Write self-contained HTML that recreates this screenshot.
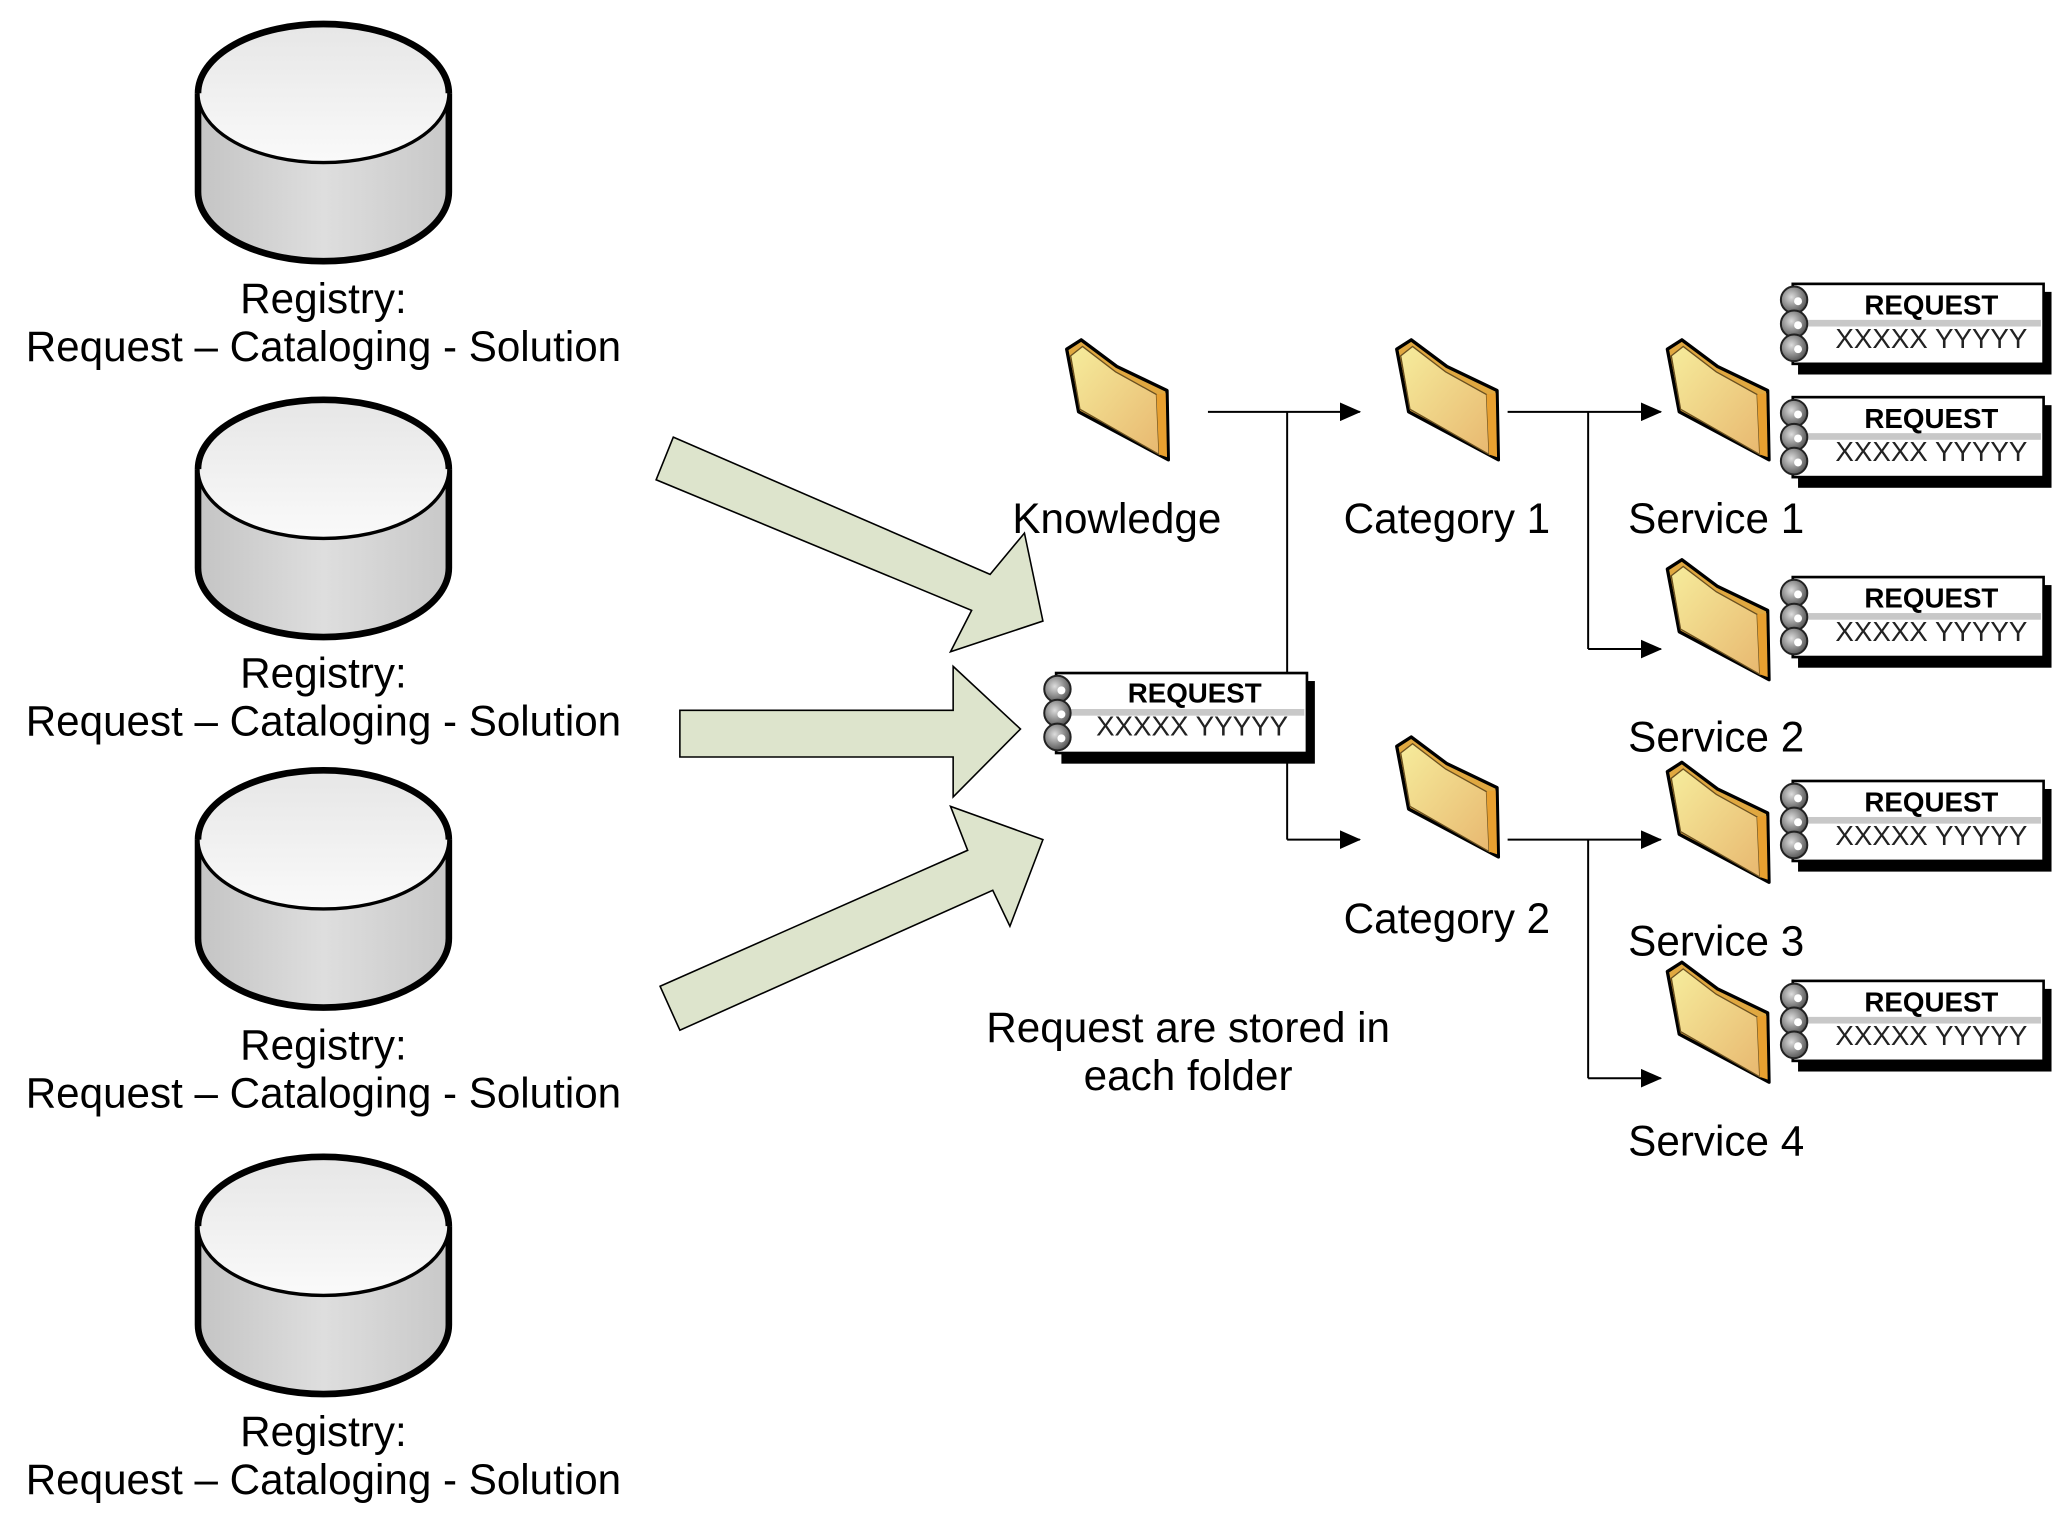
<!DOCTYPE html>
<html><head><meta charset="utf-8"><style>
html,body{margin:0;padding:0;background:#fff;}
svg{display:block;}
text{font-family:"Liberation Sans",Arial,sans-serif;}
</style></head><body>
<svg width="2070" height="1514" viewBox="0 0 1568 1136" preserveAspectRatio="none" xmlns="http://www.w3.org/2000/svg">
<defs>
<linearGradient id="cylTop" x1="0" y1="0" x2="0" y2="1"><stop offset="0" stop-color="#e6e6e6"/><stop offset="1" stop-color="#fafafa"/></linearGradient>
<linearGradient id="cylBody" x1="0" y1="0" x2="1" y2="0"><stop offset="0" stop-color="#c4c4c4"/><stop offset="0.5" stop-color="#dedede"/><stop offset="1" stop-color="#c8c8c8"/></linearGradient>
<linearGradient id="fold" x1="0" y1="0" x2="1" y2="1"><stop offset="0" stop-color="#f6ec9c"/><stop offset="1" stop-color="#e8b870"/></linearGradient>
<radialGradient id="ring" cx="0.4" cy="0.4" r="0.7"><stop offset="0" stop-color="#ddd"/><stop offset="1" stop-color="#444"/></radialGradient>
<marker id="ah" markerWidth="16" markerHeight="14" refX="15" refY="7" orient="auto" markerUnits="userSpaceOnUse"><path d="M0,0 L16,7 L0,14 Z" fill="#000"/></marker>
<g id="cyl">
 <path d="M150,70 L150,144 A95,52 0 0 0 340,144 L340,70" fill="url(#cylBody)" stroke="#000" stroke-width="5"/>
 <ellipse cx="245" cy="70" rx="95" ry="52" fill="url(#cylTop)" stroke="#000" stroke-width="2.5"/>
 <path d="M150,70 A95,52 0 0 1 340,70" fill="none" stroke="#000" stroke-width="5"/>
</g>
<g id="folder">
 <path d="M0,7 L11,0 L38,20 L76,38 L77,90 L9,54 Z" fill="#e0a840" stroke="#000" stroke-width="2.5" stroke-linejoin="round"/>
 <path d="M3,12 L12,5 L37,24 L68,41 L70,86 L10,52 Z" fill="url(#fold)" stroke="#6a5020" stroke-width="1"/>
 <path d="M68,41 L75,40 L76,88 L70,86 Z" fill="#e8a030"/>
</g>
<g id="card">
 <rect x="14" y="6" width="192" height="62" fill="#000"/>
 <rect x="10" y="0" width="190" height="60" fill="#fff" stroke="#000" stroke-width="2"/>
 <rect x="12" y="27" width="186" height="5" fill="#c8c8c8"/>
 <g fill="url(#ring)" stroke="#222" stroke-width="1.5">
  <circle cx="11" cy="12" r="10"/><circle cx="11" cy="30" r="10"/><circle cx="11" cy="48" r="10"/>
 </g>
 <g fill="#fff"><circle cx="14" cy="13" r="3"/><circle cx="14" cy="31" r="3"/><circle cx="14" cy="49" r="3"/></g>
</g>
</defs>

<use href="#cyl" y="0"/>
<use href="#cyl" y="282"/>
<use href="#cyl" y="560"/>
<use href="#cyl" y="850"/>
<g font-size="32" text-anchor="middle" fill="#000">
<text x="245" y="235">Registry:</text><text x="245" y="271" textLength="451" lengthAdjust="spacingAndGlyphs">Request – Cataloging - Solution</text>
<text x="245" y="516">Registry:</text><text x="245" y="552" textLength="451" lengthAdjust="spacingAndGlyphs">Request – Cataloging - Solution</text>
<text x="245" y="795">Registry:</text><text x="245" y="831" textLength="451" lengthAdjust="spacingAndGlyphs">Request – Cataloging - Solution</text>
<text x="245" y="1085">Registry:</text><text x="245" y="1121" textLength="451" lengthAdjust="spacingAndGlyphs">Request – Cataloging - Solution</text>
</g>

<g fill="#dde4cc" stroke="#000" stroke-width="1.2" stroke-linejoin="miter">
<polygon points="510,328 750,431 776,400 790,466 720,489 736,458 497,360"/>
<polygon points="515,533 722,533 722,500 773,547 722,598 722,568 515,568"/>
<polygon points="500,740 733,638 720,605 790,630 765,695 752,668 515,773"/>
</g>

<g stroke="#000" stroke-width="1.5" fill="none">
<line x1="915" y1="309" x2="1030" y2="309" marker-end="url(#ah)"/>
<line x1="975" y1="309" x2="975" y2="630"/>
<line x1="975" y1="630" x2="1030" y2="630" marker-end="url(#ah)"/>
<line x1="1142" y1="309" x2="1258" y2="309" marker-end="url(#ah)"/>
<line x1="1203" y1="309" x2="1203" y2="487"/>
<line x1="1203" y1="487" x2="1258" y2="487" marker-end="url(#ah)"/>
<line x1="1142" y1="630" x2="1258" y2="630" marker-end="url(#ah)"/>
<line x1="1203" y1="630" x2="1203" y2="809"/>
<line x1="1203" y1="809" x2="1258" y2="809" marker-end="url(#ah)"/>
</g>

<use href="#folder" x="808" y="255"/>
<use href="#folder" x="1058" y="255"/>
<use href="#folder" x="1058" y="553"/>
<use href="#folder" x="1263" y="255"/>
<use href="#folder" x="1263" y="420"/>
<use href="#folder" x="1263" y="572"/>
<use href="#folder" x="1263" y="722"/>

<use href="#card" x="790" y="505"/>
<use href="#card" x="1348" y="213"/>
<use href="#card" x="1348" y="298"/>
<use href="#card" x="1348" y="433"/>
<use href="#card" x="1348" y="586"/>
<use href="#card" x="1348" y="736"/>
<g text-anchor="middle" font-size="21">
<text x="905" y="527" font-weight="bold">REQUEST</text><text x="903" y="552" fill="#222">XXXXX YYYYY</text>
<text x="1463" y="236" font-weight="bold">REQUEST</text><text x="1463" y="261" fill="#222">XXXXX YYYYY</text>
<text x="1463" y="321" font-weight="bold">REQUEST</text><text x="1463" y="346" fill="#222">XXXXX YYYYY</text>
<text x="1463" y="456" font-weight="bold">REQUEST</text><text x="1463" y="481" fill="#222">XXXXX YYYYY</text>
<text x="1463" y="609" font-weight="bold">REQUEST</text><text x="1463" y="634" fill="#222">XXXXX YYYYY</text>
<text x="1463" y="759" font-weight="bold">REQUEST</text><text x="1463" y="784" fill="#222">XXXXX YYYYY</text>
</g>

<g font-size="32" text-anchor="middle" fill="#000">
<text x="846" y="400">Knowledge</text>
<text x="1096" y="400">Category 1</text>
<text x="1300" y="400">Service 1</text>
<text x="1300" y="564">Service 2</text>
<text x="1096" y="700">Category 2</text>
<text x="1300" y="717">Service 3</text>
<text x="1300" y="867">Service 4</text>
<text x="900" y="782">Request are stored in</text>
<text x="900" y="818">each folder</text>
</g>
</svg>
</body></html>
